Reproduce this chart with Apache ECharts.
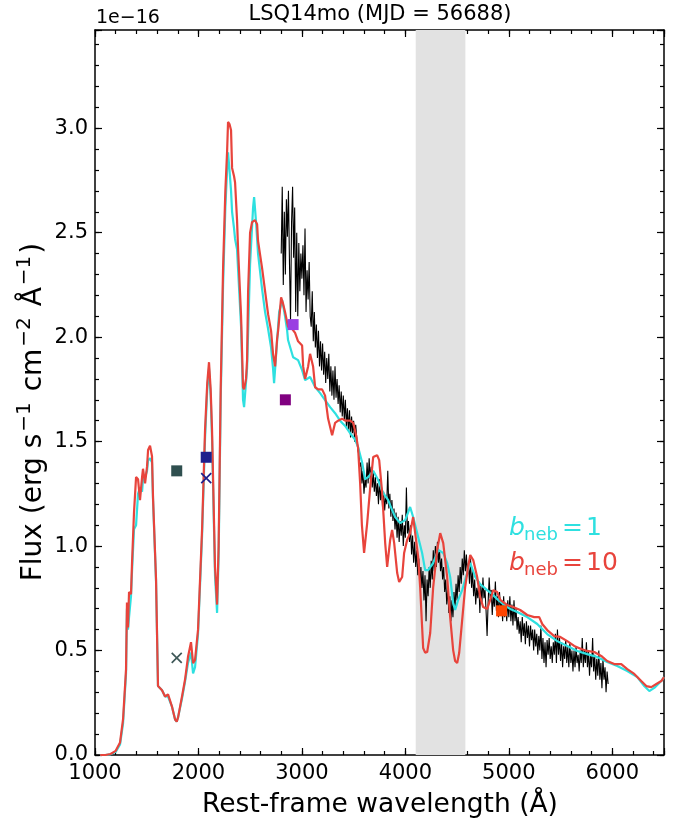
<!DOCTYPE html>
<html><head><meta charset="utf-8">
<script src="https://cdn.jsdelivr.net/npm/echarts@6/dist/echarts.min.js"></script>
<style>html,body{margin:0;padding:0;background:#fff}#c{width:685px;height:825px}</style>
</head><body><div id="c"></div>
<script>
const xTicks = [1000, 2000, 3000, 4000, 5000, 6000];
const yTicks = [0.0, 0.5, 1.0, 1.5, 2.0, 2.5, 3.0];
const shadedBand = [4100, 4580];

// model b_neb = 1 (cyan)
const bneb1 = [[1050,0],[1100,0],[1150,0.003],[1200,0.015],[1242,0.05],[1271,0.15],[1300,0.39],[1309,0.70],[1319,0.60],[1329,0.66],[1348,0.76],[1358,0.88],[1377,1.08],[1397,1.10],[1416,1.25],[1435,1.28],[1455,1.26],[1464,1.32],[1484,1.33],[1503,1.36],[1513,1.41],[1532,1.42],[1551,1.40],[1561,1.22],[1590,0.83],[1609,0.33],[1648,0.31],[1677,0.28],[1706,0.28],[1745,0.23],[1774,0.17],[1790,0.16],[1803,0.18],[1841,0.27],[1870,0.35],[1899,0.44],[1928,0.49],[1948,0.39],[1967,0.42],[1996,0.58],[2035,1.05],[2064,1.52],[2085,1.75],[2102,1.85],[2118,1.72],[2131,1.52],[2160,0.86],[2180,0.68],[2195,0.95],[2215,1.70],[2238,2.25],[2260,2.62],[2277,2.80],[2286,2.885],[2300,2.80],[2315,2.70],[2325,2.60],[2344,2.52],[2354,2.47],[2373,2.42],[2412,2.05],[2431,1.70],[2441,1.665],[2470,1.85],[2499,2.35],[2528,2.62],[2538,2.67],[2557,2.55],[2576,2.40],[2615,2.23],[2644,2.12],[2673,2.04],[2702,1.95],[2721,1.85],[2731,1.78],[2760,1.98],[2780,2.12],[2809,2.177],[2837,2.10],[2857,2.033],[2866,1.986],[2915,1.904],[2963,1.89],[3002,1.842],[3031,1.794],[3079,1.809],[3128,1.761],[3176,1.732],[3224,1.699],[3273,1.665],[3321,1.636],[3369,1.60],[3418,1.575],[3466,1.54],[3514,1.51],[3543,1.474],[3582,1.40],[3611,1.32],[3640,1.33],[3689,1.36],[3737,1.316],[3785,1.254],[3834,1.22],[3872,1.172],[3901,1.139],[3950,1.11],[3998,1.124],[4046,1.187],[4075,1.139],[4114,1.062],[4162,0.967],[4191,0.885],[4220,0.885],[4269,0.919],[4317,0.981],[4366,0.967],[4404,0.919],[4433,0.852],[4462,0.727],[4481,0.694],[4510,0.742],[4549,0.789],[4597,0.871],[4627,0.92],[4675,0.852],[4723,0.818],[4791,0.789],[4839,0.77],[4888,0.746],[4955,0.718],[5013,0.699],[5081,0.684],[5178,0.66],[5275,0.627],[5371,0.579],[5468,0.545],[5565,0.522],[5661,0.498],[5758,0.483],[5855,0.469],[5951,0.445],[6048,0.426],[6145,0.402],[6242,0.373],[6309,0.33],[6358,0.306],[6406,0.321],[6474,0.354],[6500,0.373]];

// model b_neb = 10 (red)
const bneb10 = [[1050,0],[1100,0],[1150,0.005],[1200,0.02],[1242,0.06],[1271,0.17],[1300,0.41],[1309,0.73],[1319,0.61],[1329,0.78],[1348,0.77],[1358,0.92],[1377,1.16],[1397,1.33],[1416,1.32],[1435,1.22],[1455,1.33],[1464,1.37],[1484,1.30],[1503,1.38],[1513,1.46],[1532,1.48],[1551,1.43],[1561,1.23],[1590,0.84],[1609,0.33],[1648,0.31],[1677,0.28],[1706,0.29],[1745,0.23],[1774,0.17],[1790,0.16],[1803,0.18],[1841,0.28],[1870,0.36],[1899,0.47],[1928,0.54],[1948,0.44],[1967,0.455],[1996,0.60],[2035,1.08],[2064,1.56],[2085,1.78],[2102,1.88],[2118,1.75],[2131,1.56],[2160,0.90],[2180,0.72],[2195,1.0],[2215,1.75],[2238,2.33],[2260,2.70],[2277,2.89],[2286,3.03],[2300,3.02],[2315,2.99],[2325,2.81],[2344,2.77],[2354,2.74],[2373,2.56],[2383,2.42],[2412,2.10],[2431,1.76],[2441,1.75],[2460,1.80],[2470,1.89],[2480,2.22],[2499,2.50],[2518,2.55],[2547,2.56],[2567,2.54],[2576,2.46],[2615,2.33],[2644,2.22],[2673,2.11],[2702,2.03],[2721,1.92],[2741,1.86],[2760,1.99],[2770,2.03],[2799,2.19],[2818,2.16],[2837,2.12],[2866,2.05],[2905,2.04],[2934,2.02],[2963,1.98],[3002,1.96],[3012,1.86],[3031,1.80],[3060,1.86],[3079,1.92],[3108,1.86],[3128,1.76],[3157,1.75],[3195,1.75],[3224,1.72],[3253,1.61],[3292,1.53],[3321,1.59],[3350,1.60],[3389,1.61],[3418,1.60],[3466,1.60],[3495,1.59],[3524,1.53],[3543,1.47],[3563,1.30],[3580,1.10],[3601,0.967],[3631,1.11],[3660,1.28],[3689,1.426],[3727,1.435],[3747,1.411],[3776,1.254],[3805,1.014],[3824,0.90],[3853,1.029],[3872,1.077],[3892,1.014],[3921,0.871],[3940,0.828],[3969,0.852],[3988,0.967],[4017,1.029],[4046,1.062],[4075,1.139],[4095,1.062],[4124,0.947],[4143,0.804],[4162,0.612],[4172,0.512],[4191,0.49],[4211,0.493],[4240,0.584],[4269,0.804],[4307,0.981],[4337,1.062],[4356,1.067],[4366,1.014],[4404,0.852],[4433,0.66],[4462,0.502],[4481,0.45],[4501,0.44],[4520,0.488],[4549,0.646],[4578,0.804],[4607,0.90],[4627,0.957],[4656,0.933],[4694,0.852],[4723,0.756],[4752,0.708],[4791,0.699],[4820,0.742],[4849,0.789],[4888,0.78],[4917,0.742],[4984,0.718],[5042,0.708],[5110,0.694],[5178,0.67],[5245,0.66],[5294,0.66],[5323,0.627],[5371,0.598],[5439,0.569],[5497,0.565],[5565,0.545],[5632,0.522],[5700,0.507],[5758,0.498],[5826,0.493],[5893,0.474],[5951,0.45],[6019,0.435],[6087,0.435],[6145,0.411],[6213,0.388],[6280,0.354],[6329,0.33],[6377,0.325],[6426,0.34],[6474,0.354],[6500,0.373]];

// observed spectrum (black)
const observed = [
[2800,2.40],[2810,2.72],[2820,2.25],[2830,2.60],[2840,2.30],[2850,2.66],[2860,2.48],[2870,2.70],[2880,2.35],[2890,2.08],
[2900,2.55],[2910,2.72],[2920,2.38],[2930,2.62],[2940,2.12],[2950,2.50],[2960,2.10],[2970,2.45],[2980,2.22],[2990,2.40],
[3000,2.28],[3010,2.44],[3020,2.20],[3030,2.52],[3040,2.12],[3050,2.32],[3060,2.18],[3070,2.36],[3080,2.10],[3090,2.05],
[3100,2.22],[3110,1.98],[3120,2.12],[3130,1.95],[3140,2.06],[3150,1.90],[3160,2.03],[3170,1.86],[3180,1.98],[3190,1.84],
[3200,1.97],[3210,1.82],[3220,1.93],[3230,1.78],[3240,1.90],[3250,1.80],[3260,1.92],[3270,1.74],[3280,1.86],[3290,1.72],
[3300,1.84],[3310,1.70],[3320,1.86],[3330,1.71],[3340,1.80],[3350,1.68],[3360,1.77],[3370,1.64],[3380,1.74],[3390,1.62],
[3400,1.72],[3410,1.60],[3420,1.70],[3430,1.57],[3440,1.66],[3450,1.55],[3460,1.65],[3470,1.52],[3480,1.62],[3490,1.54],
[3500,1.60],[3510,1.50],[3520,1.58],[3530,1.52],[3540,1.46],[3550,1.44],[3560,1.38],[3570,1.40],[3580,1.30],[3590,1.36],
[3600,1.25],[3610,1.32],[3620,1.28],[3630,1.40],[3640,1.30],[3650,1.42],[3660,1.32],[3670,1.38],[3680,1.28],[3690,1.35],
[3700,1.26],[3710,1.33],[3720,1.24],[3730,1.30],[3740,1.20],[3750,1.32],[3760,1.22],[3770,1.28],[3780,1.18],[3790,1.26],
[3800,1.17],[3810,1.24],[3820,1.20],[3830,1.36],[3840,1.18],[3850,1.25],[3860,1.14],[3870,1.22],[3880,1.12],[3890,1.18],
[3900,1.08],[3910,1.16],[3920,1.04],[3930,1.14],[3940,1.02],[3950,1.12],[3960,1.05],[3970,1.15],[3980,1.00],[3990,1.10],
[4000,1.04],[4010,1.28],[4020,1.06],[4030,1.12],[4040,1.02],[4050,1.10],[4060,0.96],[4070,1.05],[4080,0.92],[4090,1.02],
[4100,0.90],[4110,0.98],[4120,0.86],[4130,0.94],[4140,0.82],[4150,0.90],[4160,0.80],[4170,0.88],[4180,0.74],[4190,0.86],
[4200,0.64],[4210,0.84],[4220,0.76],[4230,0.90],[4240,0.80],[4250,0.93],[4260,0.84],[4270,0.98],[4280,0.88],[4290,1.00],
[4300,0.90],[4310,1.02],[4320,0.92],[4330,0.98],[4340,0.88],[4350,0.94],[4360,0.84],[4370,0.90],[4380,0.78],[4390,0.84],
[4400,0.72],[4410,0.80],[4420,0.68],[4430,0.76],[4440,0.64],[4450,0.74],[4460,0.66],[4470,0.78],[4480,0.70],[4490,0.82],
[4500,0.74],[4510,0.86],[4520,0.78],[4530,0.90],[4540,0.82],[4550,0.94],[4560,0.86],[4570,0.98],[4580,0.88],[4590,0.96],
[4600,0.86],[4610,0.92],[4620,0.82],[4630,0.94],[4640,0.80],[4650,0.88],[4660,0.76],[4670,0.84],[4680,0.72],[4690,0.80],
[4700,0.75],[4710,0.83],[4720,0.68],[4730,0.81],[4740,0.73],[4750,0.85],[4760,0.75],[4770,0.79],[4780,0.69],[4790,0.57],
[4800,0.73],[4810,0.85],[4820,0.75],[4830,0.79],[4840,0.67],[4850,0.77],[4860,0.71],[4870,0.83],[4880,0.69],[4890,0.76],
[4900,0.66],[4910,0.78],[4920,0.70],[4930,0.74],[4940,0.64],[4950,0.76],[4960,0.66],[4970,0.72],[4980,0.64],[4990,0.74],
[5000,0.66],[5010,0.76],[5020,0.64],[5030,0.72],[5040,0.62],[5050,0.74],[5060,0.64],[5070,0.70],[5080,0.60],[5090,0.66],
[5100,0.58],[5110,0.64],[5120,0.54],[5130,0.66],[5140,0.57],[5150,0.63],[5160,0.53],[5170,0.64],[5180,0.56],[5190,0.62],
[5200,0.52],[5210,0.62],[5220,0.55],[5230,0.60],[5240,0.50],[5250,0.60],[5260,0.52],[5270,0.58],[5280,0.48],[5290,0.57],
[5300,0.50],[5310,0.62],[5320,0.46],[5330,0.56],[5340,0.44],[5350,0.54],[5360,0.42],[5370,0.55],[5380,0.48],[5390,0.56],
[5400,0.46],[5410,0.52],[5420,0.44],[5430,0.54],[5440,0.48],[5450,0.58],[5460,0.44],[5470,0.60],[5480,0.48],[5490,0.56],
[5500,0.45],[5510,0.54],[5520,0.42],[5530,0.52],[5540,0.46],[5550,0.55],[5560,0.44],[5570,0.52],[5580,0.42],[5590,0.54],
[5600,0.44],[5610,0.50],[5620,0.40],[5630,0.50],[5640,0.42],[5650,0.52],[5660,0.44],[5670,0.48],[5680,0.40],[5690,0.50],
[5700,0.44],[5710,0.56],[5720,0.42],[5730,0.50],[5740,0.44],[5750,0.54],[5760,0.42],[5770,0.50],[5780,0.38],[5790,0.48],
[5800,0.42],[5810,0.56],[5820,0.40],[5830,0.48],[5840,0.36],[5850,0.46],[5860,0.38],[5870,0.50],[5880,0.36],[5890,0.44],
[5900,0.32],[5910,0.46],[5920,0.36],[5930,0.42],[5940,0.30],[5950,0.40],[5960,0.34]];

// photometry
const photSquares = [[1790,1.36],[2075,1.425],[2840,1.70],[2915,2.06],[4930,0.69]];
const photSquareColors = ['#2f4f4f','#1f1f8c','#800080','#9a3ee2','#ff4500'];
const photCrosses = [[1790,0.465],[2075,1.325]];
const photCrossColors = ['#3f5858','#1f1f8c'];

const FONT = 'DejaVu Sans';
const chart = echarts.init(document.getElementById('c'), null, {renderer: 'canvas'});

function xAx(pos, interval, len, major, labels) {
  return {
    type: 'value', min: 1000, max: 6500, interval: interval, position: pos,
    axisLine: {show: major, onZero: false, lineStyle: {color: '#000', width: 1.5}},
    axisTick: {show: true, inside: true, length: len, lineStyle: {color: '#000', width: 1.2}},
    axisLabel: {show: labels, margin: 8, fontSize: 21, fontFamily: FONT, color: '#000',
      formatter: v => xTicks.indexOf(v) >= 0 ? String(v) : ''},
    splitLine: {show: false}
  };
}
function yAx(pos, interval, len, major, labels) {
  return {
    type: 'value', min: 0, max: 3.47, interval: interval, position: pos,
    axisLine: {show: major, onZero: false, lineStyle: {color: '#000', width: 1.5}},
    axisTick: {show: true, inside: true, length: len, lineStyle: {color: '#000', width: 1.2}},
    axisLabel: {show: labels, margin: 7, fontSize: 21, fontFamily: FONT, color: '#000',
      formatter: v => yTicks.some(t => Math.abs(t - v) < 1e-6) ? v.toFixed(1) : ''},
    splitLine: {show: false}
  };
}

const option = {
  animation: false,
  backgroundColor: '#fff',
  grid: {left: 95, right: 21, top: 30, bottom: 70, containLabel: false},
  xAxis: [xAx('bottom', 1000, 7, true, true), xAx('bottom', 200, 4, false, false),
          xAx('top', 1000, 7, true, false), xAx('top', 200, 4, false, false)],
  yAxis: [yAx('left', 0.5, 7, true, true), yAx('left', 0.1, 4, false, false),
          yAx('right', 0.5, 7, true, false), yAx('right', 0.1, 4, false, false)],
  series: [
    {type: 'line', data: [], z: 1, silent: true,
     markArea: {silent: true, itemStyle: {color: '#e2e2e2'},
       data: [[{xAxis: shadedBand[0]}, {xAxis: shadedBand[1]}]]}},
    {type: 'line', data: observed, showSymbol: false, symbol: 'none', z: 3,
     lineStyle: {color: '#000', width: 1.1}},
    {type: 'line', data: bneb1, showSymbol: false, symbol: 'none', z: 4,
     lineStyle: {color: '#2ee0e0', width: 2.2}},
    {type: 'line', data: bneb10, showSymbol: false, symbol: 'none', z: 5,
     lineStyle: {color: '#e8443c', width: 2.2}},
    {type: 'scatter', z: 8, symbol: 'rect', symbolSize: 11,
     data: photSquares.map((p, i) => ({value: p, itemStyle: {color: photSquareColors[i], opacity: 1}}))},
    {type: 'scatter', z: 8, symbol: 'path://M0,0L10,10M10,0L0,10', symbolSize: 10,
     data: photCrosses.map((p, i) => ({value: p, itemStyle: {color: 'rgba(0,0,0,0)', borderColor: photCrossColors[i], borderWidth: 1.7, opacity: 1}}))}
  ],
  graphic: [
    {type: 'text', x: 380, y: 15, style: {text: 'LSQ14mo (MJD = 56688)', font: '21px "DejaVu Sans"', fill: '#000', align: 'center', verticalAlign: 'middle'}},
    {type: 'text', x: 96, y: 18, style: {text: '1e\u221216', font: '19px "DejaVu Sans"', fill: '#000', align: 'left', verticalAlign: 'middle'}},
    {type: 'text', x: 380, y: 805, style: {text: 'Rest-frame wavelength (\u00c5)', font: '26.5px "DejaVu Sans"', fill: '#000', align: 'center', verticalAlign: 'middle'}},
    {type: 'text', x: 34, y: 412, rotation: Math.PI / 2, style: {
      text: 'Flux (erg s{sup|\u22121} cm{sup|\u22122} \u00c5{sup|\u22121})',
      font: '28px "DejaVu Sans"', fill: '#000', align: 'center', verticalAlign: 'middle', lineHeight: 38,
      rich: {sup: {fontSize: 20, fontFamily: FONT, fill: '#000', verticalAlign: 'top', lineHeight: 22, padding: [0, 2, 0, 2]}}}},
    {type: 'text', x: 509, y: 528, style: {text: 'b', font: 'oblique 25px "DejaVu Sans"', fill: '#2ee0e0', align: 'left', verticalAlign: 'middle'}},
    {type: 'text', x: 524, y: 535, style: {text: 'neb', font: '18px "DejaVu Sans"', fill: '#2ee0e0', align: 'left', verticalAlign: 'middle'}},
    {type: 'text', x: 562, y: 528, style: {text: '=', font: '25px "DejaVu Sans"', fill: '#2ee0e0', align: 'left', verticalAlign: 'middle'}},
    {type: 'text', x: 586, y: 528, style: {text: '1', font: '25px "DejaVu Sans"', fill: '#2ee0e0', align: 'left', verticalAlign: 'middle'}},
    {type: 'text', x: 509, y: 563, style: {text: 'b', font: 'oblique 25px "DejaVu Sans"', fill: '#e8443c', align: 'left', verticalAlign: 'middle'}},
    {type: 'text', x: 524, y: 570, style: {text: 'neb', font: '18px "DejaVu Sans"', fill: '#e8443c', align: 'left', verticalAlign: 'middle'}},
    {type: 'text', x: 562, y: 563, style: {text: '=', font: '25px "DejaVu Sans"', fill: '#e8443c', align: 'left', verticalAlign: 'middle'}},
    {type: 'text', x: 586, y: 563, style: {text: '10', font: '25px "DejaVu Sans"', fill: '#e8443c', align: 'left', verticalAlign: 'middle'}}
  ]
};
chart.setOption(option);
</script>
</body></html>
